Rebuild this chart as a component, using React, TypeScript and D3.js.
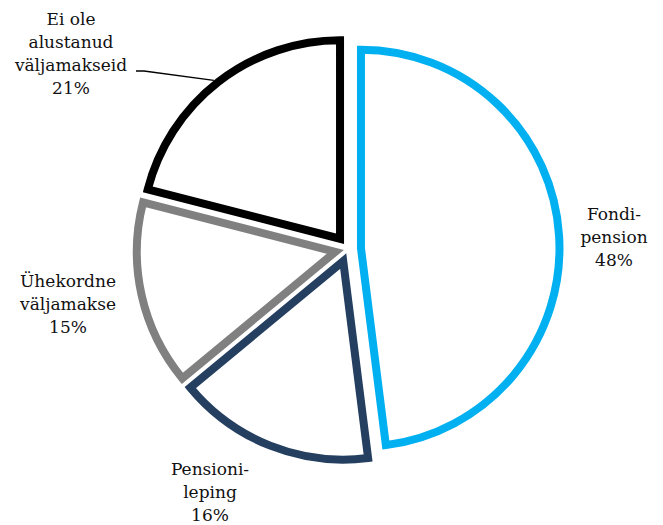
import React from "react";
import * as d3 from "d3";

const categories = ["Fondipension", "Pensionileping", "Ühekordne väljamakse", "Ei ole alustanud väljamakseid"];
const values = [48, 16, 15, 21];
const labelLines = [
  ["Fondi-", "pension", "48%"],
  ["Pensioni-", "leping", "16%"],
  ["Ühekordne", "väljamakse", "15%"],
  ["Ei ole", "alustanud", "väljamakseid", "21%"],
];
const colors = ["#00B0F0", "#243F60", "#808080", "#000000"];

const W = 663, H = 525;
const cx = 348, cy = 249;
const R = 198.5;
const explode = 13;
const labelPos: [number, number][] = [
  [614, 220],
  [210, 475],
  [68, 287],
  [71, 25],
];
const lineH = 23;

export default function App() {
  const pie = d3.pie<number>().sort(null).startAngle(0).endAngle(2 * Math.PI);
  const arcs = pie(values);
  const arcGen = d3.arc<d3.PieArcDatum<number>>().innerRadius(0).outerRadius(R);
  const font = "'DejaVu Serif', Georgia, serif";
  const last = arcs[3];
  const lm = (last.startAngle + last.endAngle) / 2;
  const lox = Math.sin(lm) * explode, loy = -Math.cos(lm) * explode;
  const leaderAngle = last.startAngle + (last.endAngle - last.startAngle) * 0.49;
  const lx = cx + lox + Math.sin(leaderAngle) * (R + 4);
  const ly = cy + loy - Math.cos(leaderAngle) * (R + 4);
  return (
    <svg width={W} height={H} style={{ position: "absolute", left: 0, top: 0, background: "#fff" }}>
      {arcs.map((a, i) => {
        const m = (a.startAngle + a.endAngle) / 2;
        const dx = Math.sin(m) * explode, dy = -Math.cos(m) * explode;
        return (
          <path
            key={categories[i]}
            d={arcGen(a) || ""}
            transform={`translate(${cx + dx},${cy + dy})`}
            fill="#fff"
            stroke={colors[i]}
            strokeWidth={8}
            strokeLinejoin="miter"
          />
        );
      })}
      <polyline
        points={`136,71 144,71 ${lx},${ly}`}
        fill="none"
        stroke="#000"
        strokeWidth={1.3}
      />
      {labelLines.map((lines, i) => (
        <text key={i} fontFamily={font} fontSize={17} fill="#111" textAnchor="middle">
          {lines.map((t, j) => (
            <tspan key={j} x={labelPos[i][0]} y={labelPos[i][1] + j * lineH}>{t}</tspan>
          ))}
        </text>
      ))}
    </svg>
  );
}
